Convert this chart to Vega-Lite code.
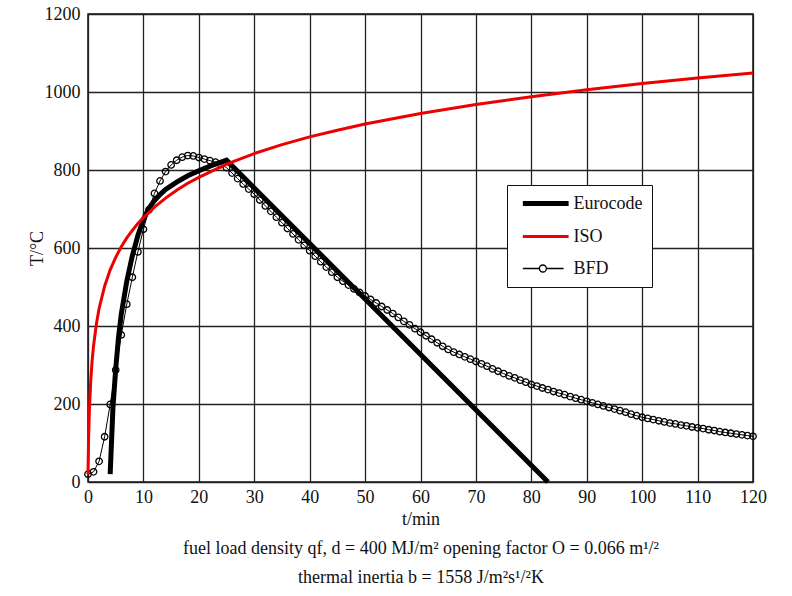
{
 "$schema": "https://vega.github.io/schema/vega-lite/v6.json",
 "width": 665, "height": 468,
 "autosize": {"type": "none"},
 "padding": {"left": 88, "top": 14, "right": 39, "bottom": 114},
 "background": "white",
 "config": {
  "font": "Liberation Serif",
  "view": {"stroke": "#111111", "strokeWidth": 1.5},
  "axis": {"labelFont": "Liberation Serif", "labelFontSize": 18, "labelColor": "#111111", "titleFont": "Liberation Serif", "titleFontSize": 18, "titleFontWeight": "normal", "titleColor": "#111111", "grid": true, "gridColor": "#222222", "gridWidth": 1.3, "gridOpacity": 1, "ticks": false, "domain": false, "labelFlush": false, "format": "d"}
 },
 "datasets": {
  "euro": [
   {"t":4,"T":20,"series":"Eurocode"},{"t":4.5,"T":190,"series":"Eurocode"},{"t":5,"T":290,"series":"Eurocode"},{"t":5.5,"T":370,"series":"Eurocode"},{"t":6,"T":430,"series":"Eurocode"},{"t":7,"T":515,"series":"Eurocode"},{"t":8,"T":580,"series":"Eurocode"},{"t":9,"T":632,"series":"Eurocode"},{"t":10,"T":674,"series":"Eurocode"},{"t":11,"T":702,"series":"Eurocode"},{"t":12,"T":722,"series":"Eurocode"},{"t":13,"T":737,"series":"Eurocode"},{"t":14,"T":750,"series":"Eurocode"},{"t":16,"T":769,"series":"Eurocode"},{"t":18,"T":785,"series":"Eurocode"},{"t":20,"T":798,"series":"Eurocode"},{"t":22,"T":810,"series":"Eurocode"},{"t":24,"T":820,"series":"Eurocode"},{"t":25,"T":825,"series":"Eurocode"},{"t":83,"T":0,"series":"Eurocode"}
  ],
  "iso": [
   {"t":0,"T":20,"series":"ISO"},{"t":0.1,"T":108,"series":"ISO"},{"t":0.25,"T":185,"series":"ISO"},{"t":0.5,"T":261,"series":"ISO"},{"t":0.75,"T":312,"series":"ISO"},{"t":1,"T":349,"series":"ISO"},{"t":1.5,"T":404,"series":"ISO"},{"t":2,"T":445,"series":"ISO"},{"t":3,"T":502,"series":"ISO"},{"t":4,"T":544,"series":"ISO"},{"t":5,"T":576,"series":"ISO"},{"t":6,"T":603,"series":"ISO"},{"t":7,"T":626,"series":"ISO"},{"t":8,"T":645,"series":"ISO"},{"t":9,"T":663,"series":"ISO"},{"t":10,"T":678,"series":"ISO"},{"t":12,"T":705,"series":"ISO"},{"t":14,"T":728,"series":"ISO"},{"t":16,"T":748,"series":"ISO"},{"t":18,"T":766,"series":"ISO"},{"t":20,"T":781,"series":"ISO"},{"t":25,"T":815,"series":"ISO"},{"t":30,"T":842,"series":"ISO"},{"t":35,"T":865,"series":"ISO"},{"t":40,"T":885,"series":"ISO"},{"t":45,"T":902,"series":"ISO"},{"t":50,"T":918,"series":"ISO"},{"t":60,"T":945,"series":"ISO"},{"t":70,"T":968,"series":"ISO"},{"t":80,"T":988,"series":"ISO"},{"t":90,"T":1006,"series":"ISO"},{"t":100,"T":1022,"series":"ISO"},{"t":110,"T":1036,"series":"ISO"},{"t":120,"T":1049,"series":"ISO"}
  ],
  "bfd": [
   {"t":0,"T":20,"series":"BFD"},{"t":1,"T":26,"series":"BFD"},{"t":2,"T":53,"series":"BFD"},{"t":3,"T":116,"series":"BFD"},{"t":4,"T":199,"series":"BFD"},{"t":5,"T":287,"series":"BFD"},{"t":6,"T":377,"series":"BFD"},{"t":7,"T":456,"series":"BFD"},{"t":8,"T":525,"series":"BFD"},{"t":9,"T":590,"series":"BFD"},
   {"t":10,"T":648,"series":"BFD"},{"t":11,"T":698,"series":"BFD"},{"t":12,"T":740,"series":"BFD"},{"t":13,"T":772,"series":"BFD"},{"t":14,"T":796,"series":"BFD"},{"t":15,"T":813,"series":"BFD"},{"t":16,"T":825,"series":"BFD"},{"t":17,"T":833,"series":"BFD"},{"t":18,"T":837,"series":"BFD"},{"t":19,"T":836,"series":"BFD"},
   {"t":20,"T":832,"series":"BFD"},{"t":21,"T":828,"series":"BFD"},{"t":22,"T":824,"series":"BFD"},{"t":23,"T":820,"series":"BFD"},{"t":24,"T":814,"series":"BFD"},{"t":25,"T":806,"series":"BFD"},{"t":26,"T":792,"series":"BFD"},{"t":27,"T":778,"series":"BFD"},{"t":28,"T":764,"series":"BFD"},{"t":29,"T":751,"series":"BFD"},
   {"t":30,"T":738,"series":"BFD"},{"t":31,"T":723,"series":"BFD"},{"t":32,"T":708,"series":"BFD"},{"t":33,"T":694,"series":"BFD"},{"t":34,"T":679,"series":"BFD"},{"t":35,"T":665,"series":"BFD"},{"t":36,"T":650,"series":"BFD"},{"t":37,"T":636,"series":"BFD"},{"t":38,"T":621,"series":"BFD"},{"t":39,"T":607,"series":"BFD"},
   {"t":40,"T":593,"series":"BFD"},{"t":41,"T":579,"series":"BFD"},{"t":42,"T":565,"series":"BFD"},{"t":43,"T":551,"series":"BFD"},{"t":44,"T":538,"series":"BFD"},{"t":45,"T":525,"series":"BFD"},{"t":46,"T":515,"series":"BFD"},{"t":47,"T":505,"series":"BFD"},{"t":48,"T":495,"series":"BFD"},{"t":49,"T":486,"series":"BFD"},
   {"t":50,"T":477,"series":"BFD"},{"t":51,"T":468,"series":"BFD"},{"t":52,"T":459,"series":"BFD"},{"t":53,"T":450,"series":"BFD"},{"t":54,"T":441,"series":"BFD"},{"t":55,"T":432,"series":"BFD"},{"t":56,"T":422,"series":"BFD"},{"t":57,"T":412,"series":"BFD"},{"t":58,"T":403,"series":"BFD"},{"t":59,"T":393,"series":"BFD"},
   {"t":60,"T":384,"series":"BFD"},{"t":61,"T":375,"series":"BFD"},{"t":62,"T":366,"series":"BFD"},{"t":63,"T":357,"series":"BFD"},{"t":64,"T":348,"series":"BFD"},{"t":65,"T":340,"series":"BFD"},{"t":66,"T":333,"series":"BFD"},{"t":67,"T":327,"series":"BFD"},{"t":68,"T":321,"series":"BFD"},{"t":69,"T":315,"series":"BFD"},
   {"t":70,"T":309,"series":"BFD"},{"t":71,"T":303,"series":"BFD"},{"t":72,"T":297,"series":"BFD"},{"t":73,"T":290,"series":"BFD"},{"t":74,"T":284,"series":"BFD"},{"t":75,"T":278,"series":"BFD"},{"t":76,"T":272,"series":"BFD"},{"t":77,"T":267,"series":"BFD"},{"t":78,"T":261,"series":"BFD"},{"t":79,"T":256,"series":"BFD"},
   {"t":80,"T":250,"series":"BFD"},{"t":81,"T":246,"series":"BFD"},{"t":82,"T":241,"series":"BFD"},{"t":83,"T":237,"series":"BFD"},{"t":84,"T":232,"series":"BFD"},{"t":85,"T":228,"series":"BFD"},{"t":86,"T":224,"series":"BFD"},{"t":87,"T":219,"series":"BFD"},{"t":88,"T":215,"series":"BFD"},{"t":89,"T":211,"series":"BFD"},
   {"t":90,"T":207,"series":"BFD"},{"t":91,"T":203,"series":"BFD"},{"t":92,"T":199,"series":"BFD"},{"t":93,"T":195,"series":"BFD"},{"t":94,"T":191,"series":"BFD"},{"t":95,"T":187,"series":"BFD"},{"t":96,"T":183,"series":"BFD"},{"t":97,"T":179,"series":"BFD"},{"t":98,"T":174,"series":"BFD"},{"t":99,"T":170,"series":"BFD"},
   {"t":100,"T":166,"series":"BFD"},{"t":101,"T":163,"series":"BFD"},{"t":102,"T":160,"series":"BFD"},{"t":103,"T":157,"series":"BFD"},{"t":104,"T":154,"series":"BFD"},{"t":105,"T":151,"series":"BFD"},{"t":106,"T":149,"series":"BFD"},{"t":107,"T":146,"series":"BFD"},{"t":108,"T":144,"series":"BFD"},{"t":109,"T":141,"series":"BFD"},
   {"t":110,"T":139,"series":"BFD"},{"t":111,"T":137,"series":"BFD"},{"t":112,"T":134,"series":"BFD"},{"t":113,"T":132,"series":"BFD"},{"t":114,"T":129,"series":"BFD"},{"t":115,"T":127,"series":"BFD"},{"t":116,"T":125,"series":"BFD"},{"t":117,"T":123,"series":"BFD"},{"t":118,"T":121,"series":"BFD"},{"t":119,"T":119,"series":"BFD"},{"t":120,"T":117,"series":"BFD"}
  ]
 },
 "encoding": {
  "x": {"field": "t", "type": "quantitative", "scale": {"domain": [0, 120], "nice": false, "zero": false},
        "axis": {"values": [0,10,20,30,40,50,60,70,80,90,100,110,120], "labelPadding": 6, "titlePadding": 4, "titleLineHeight": 29,
                 "title": ["t/min", "fuel load density qf, d = 400 MJ/m² opening factor O = 0.066 m¹/²", "thermal inertia b = 1558 J/m²s¹/²K"]}},
  "y": {"field": "T", "type": "quantitative", "scale": {"domain": [0, 1200], "nice": false},
        "axis": {"values": [0,200,400,600,800,1000,1200], "labelPadding": 8, "titleX": -42, "title": "T/°C"}},
  "color": {"field": "series", "type": "nominal",
   "scale": {"domain": ["Eurocode", "ISO", "BFD"], "range": ["#000000", "#ee0000", "#000000"]},
   "legend": {"title": null, "orient": "none", "legendX": 419, "legendY": 171, "padding": 9.5, "strokeColor": "#111111", "fillColor": "white",
     "symbolSize": 784, "rowPadding": 14, "labelOffset": 39, "labelFont": "Liberation Serif", "labelFontSize": 18, "labelColor": "#111111",
     "encode": {"symbols": {"update": {
       "shape": {"signal": "datum.value === 'BFD' ? 'M-0.19,0L0.99,0M1.49,0L2.72,0M0.99,0A0.25,0.25,0,1,1,1.49,0A0.25,0.25,0,1,1,0.99,0' : 'M-0.19,0L3.08,0'"},
       "strokeWidth": {"signal": "datum.value === 'Eurocode' ? 5 : datum.value === 'ISO' ? 3 : 1.3"},
       "fill": {"value": "transparent"},
       "opacity": {"value": 1}}}}}}
 },
 "layer": [
  {"data": {"name": "euro"}, "mark": {"type": "line", "strokeWidth": 5, "strokeCap": "butt"}},
  {"data": {"name": "bfd"}, "mark": {"type": "line", "strokeWidth": 1}},
  {"data": {"name": "bfd"}, "mark": {"type": "point", "filled": false, "opacity": 1, "size": 42, "strokeWidth": 1.3}},
  {"data": {"name": "iso"}, "mark": {"type": "line", "strokeWidth": 3}}
 ]
}
